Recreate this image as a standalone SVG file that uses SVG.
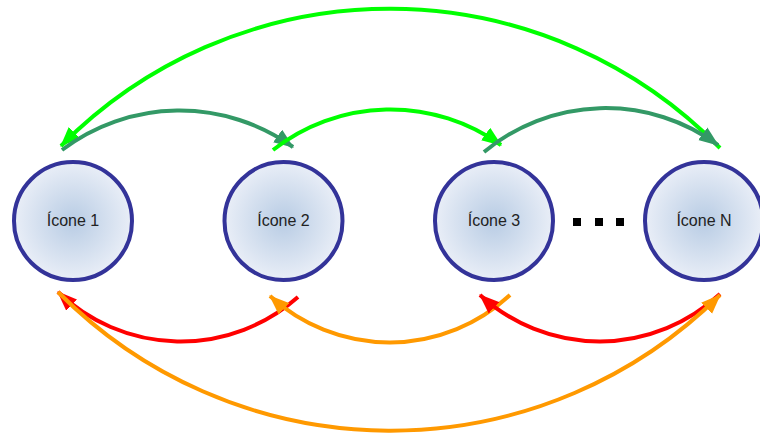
<svg xmlns="http://www.w3.org/2000/svg" width="760" height="433" viewBox="0 0 760 433">
<style>
.node circle{fill:url(#g);stroke:#333399;stroke-width:4}
.node text{font-family:"Liberation Sans",Arial,sans-serif;font-size:16px;fill:#222;text-anchor:middle}
.c{fill:none;stroke-width:4;stroke-linecap:butt}
.red{stroke:#ff0000}.org{stroke:#ff9900}.lg{stroke:#00ff00}.dg{stroke:#339966}
</style>
<defs>
<radialGradient id="g" cx="50%" cy="50%" r="50%">
<stop offset="0" stop-color="#b8cce4"/>
<stop offset="1" stop-color="#e9eef7"/>
</radialGradient>
<marker id="mr" markerUnits="userSpaceOnUse" markerWidth="20" markerHeight="16" refX="17" refY="7" orient="auto" viewBox="0 0 18 14"><path d="M0,0L18,7L0,14Z" fill="#ff0000"/></marker>
<marker id="mo" markerUnits="userSpaceOnUse" markerWidth="20" markerHeight="16" refX="17" refY="7" orient="auto" viewBox="0 0 18 14"><path d="M0,0L18,7L0,14Z" fill="#ff9900"/></marker>
<marker id="ml" markerUnits="userSpaceOnUse" markerWidth="20" markerHeight="16" refX="17" refY="7" orient="auto" viewBox="0 0 18 14"><path d="M0,0L18,7L0,14Z" fill="#00ff00"/></marker>
<marker id="md" markerUnits="userSpaceOnUse" markerWidth="20" markerHeight="16" refX="17" refY="7" orient="auto" viewBox="0 0 18 14"><path d="M0,0L18,7L0,14Z" fill="#339966"/></marker>
</defs>
<g id="n1" class="node"><circle cx="73" cy="221" r="59"/><text x="73" y="226">Ícone 1</text></g>
<g id="n2" class="node"><circle cx="283.5" cy="221" r="59"/><text x="283.5" y="226">Ícone 2</text></g>
<g id="n3" class="node"><circle cx="494" cy="221" r="59"/><text x="494" y="226">Ícone 3</text></g>
<g id="nN" class="node"><circle cx="704" cy="221" r="59"/><text x="704" y="226">Ícone N</text></g>
<g id="dots" fill="#000"><rect x="573" y="218" width="8" height="8"/><rect x="595" y="218" width="8" height="8"/><rect x="616" y="218" width="8" height="8"/></g>
<g id="connectors">
<path class="c lg" d="M720,148 A462,462 0 0 0 61,146" marker-end="url(#ml)"/>
<path class="c dg" d="M62,150 A195,195 0 0 1 293,147" marker-end="url(#md)"/>
<path class="c lg" d="M273,150 A190,190 0 0 1 501,145" marker-end="url(#ml)"/>
<path class="c dg" d="M484,152 A190,190 0 0 1 718,145" marker-end="url(#md)"/>
<path class="c red" d="M298,297 A177,177 0 0 1 58,292" marker-end="url(#mr)"/>
<path class="c org" d="M510,295 A177,177 0 0 1 270,296" marker-end="url(#mo)"/>
<path class="c red" d="M720,294 A177,177 0 0 1 480,295" marker-end="url(#mr)"/>
<path class="c org" d="M58,292 A468,468 0 0 0 720,295" marker-end="url(#mo)"/>
</g>
</svg>
